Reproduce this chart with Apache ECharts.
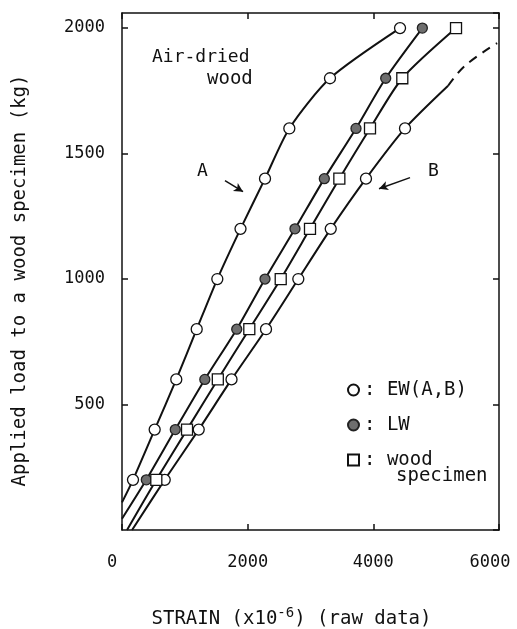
<!DOCTYPE html>
<html>
<head>
<meta charset="utf-8">
<script src="https://cdn.jsdelivr.net/npm/echarts@6/dist/echarts.min.js"></script>
<style>
  html, body { margin: 0; padding: 0; background: #fff; }
  #chart { width: 517px; height: 629px; }
</style>
</head>
<body>
<div id="chart"></div>
<script>
// load levels (kg)
const loads = [200, 400, 600, 800, 1000, 1200, 1400, 1600, 1800, 2000];
// strain (x10^-6)
const ewA = [175, 520, 864, 1189, 1517, 1886, 2276, 2663, 3310, 4425];
const lw = [387, 848, 1318, 1826, 2276, 2753, 3220, 3724, 4197, 4780];
const wood = [546, 1035, 1525, 2026, 2526, 2992, 3459, 3947, 4461, 5316];
const ewB = [680, 1221, 1743, 2292, 2806, 3322, 3883, 4504];
// where the fitted curves meet the axes, and the end of B
const aStart = [0, 110];
const lwStart = [0, 45];
const woodStart = [80, 0];
const bStart = [160, 0];
const bDashed = [[5190, 1770], [5460, 1850], [5970, 1940]];
// arrows pointing at curves A and B
const arrowA = [[1639, 1392], [1926, 1348]];
const arrowB = [[4584, 1404], [4090, 1360]];

const xTicks = { min: 0, max: 6000, interval: 2000 };
const yTicks = { min: 0, max: 2060, interval: 500 };

const FONT = 'DejaVu Sans Mono';
const INK = '#111';

function pairs(xs) {
  return xs.map((x, i) => [x, loads[i]]);
}

let curveStyle = { color: INK, width: 2 };
let frameLine = { show: true, onZero: false, lineStyle: { color: INK, width: 1.5 } };
let frameTick = { inside: true, length: 6, lineStyle: { color: INK, width: 1.5 } };

let chart = echarts.init(document.getElementById('chart'), null, { renderer: 'canvas' });

let option = {
  backgroundColor: '#fff',
  animation: false,
  grid: { left: 122, right: 18, top: 13, bottom: 99, outerBoundsMode: 'none', containLabel: false },
  legend: {
    orient: 'vertical',
    left: 342,
    top: 375,
    itemWidth: 11,
    itemHeight: 11,
    itemGap: 15,
    selectedMode: false,
    textStyle: { fontFamily: FONT, fontSize: 19, color: INK, lineHeight: 20 },
    formatter: function (name) {
      return name === 'wood specimen' ? ': wood' : ': ' + name;
    },
    data: [
      { name: 'EW(A,B)', icon: 'circle' },
      { name: 'LW', icon: 'circle' },
      { name: 'wood specimen', icon: 'rect' }
    ]
  },
  xAxis: [
    {
      type: 'value', position: 'bottom',
      min: xTicks.min, max: xTicks.max, interval: xTicks.interval,
      name: '{n|STRAIN (x10}{s|-6}{n|) (raw data)}',
      nameLocation: 'middle',
      nameGap: 76,
      nameTextStyle: {
        padding: [0, 38, 0, 0],
        rich: {
          n: { fontFamily: FONT, fontSize: 19, color: INK },
          s: { fontFamily: FONT, fontSize: 14, color: INK, verticalAlign: 'bottom', padding: [0, 0, 12, 0] }
        }
      },
      axisLine: frameLine,
      axisTick: frameTick,
      axisLabel: {
        margin: 24, fontFamily: FONT, fontSize: 17, color: INK,
        formatter: function (v) {
          if (v === xTicks.min) return '{lo|' + v + '}';
          if (v === xTicks.max) return '{hi|' + v + '}';
          return String(v);
        },
        rich: {
          lo: { fontFamily: FONT, fontSize: 17, color: INK, padding: [0, 20, 0, 0] },
          hi: { fontFamily: FONT, fontSize: 17, color: INK, padding: [0, 18, 0, 0] }
        }
      },
      splitLine: { show: false }
    },
    {
      type: 'value', position: 'top',
      min: xTicks.min, max: xTicks.max, interval: xTicks.interval,
      axisLine: frameLine,
      axisTick: frameTick,
      axisLabel: { show: false },
      splitLine: { show: false }
    }
  ],
  yAxis: [
    {
      type: 'value', position: 'left',
      min: yTicks.min, max: yTicks.max, interval: yTicks.interval,
      name: 'Applied load to a wood specimen (kg)',
      nameLocation: 'middle',
      nameGap: 92,
      nameTextStyle: { fontFamily: FONT, fontSize: 19, color: INK, padding: [0, 18, 0, 0] },
      axisLine: frameLine,
      axisTick: frameTick,
      axisLabel: {
        margin: 17, fontFamily: FONT, fontSize: 17, color: INK,
        showMinLabel: false, showMaxLabel: false, formatter: v => String(v)
      },
      splitLine: { show: false }
    },
    {
      type: 'value', position: 'right',
      min: yTicks.min, max: yTicks.max, interval: yTicks.interval,
      axisLine: frameLine,
      axisTick: frameTick,
      axisLabel: { show: false },
      splitLine: { show: false }
    }
  ],
  graphic: [
    { type: 'text', left: 152, top: 48, style: { text: 'Air-dried', font: '18px "DejaVu Sans Mono"', fill: INK } },
    { type: 'text', left: 207, top: 70, style: { text: 'wood', font: '19px "DejaVu Sans Mono"', fill: INK } },
    { type: 'text', left: 197, top: 162, style: { text: 'A', font: '18px "DejaVu Sans Mono"', fill: INK } },
    { type: 'text', left: 428, top: 162, style: { text: 'B', font: '18px "DejaVu Sans Mono"', fill: INK } },
    { type: 'text', left: 396, top: 467, style: { text: 'specimen', font: '19px "DejaVu Sans Mono"', fill: INK } }
  ],
  series: [
    {
      name: 'curveA', type: 'line', smooth: 0.25,
      symbol: 'none', lineStyle: curveStyle, z: 2,
      data: [aStart].concat(pairs(ewA)),
      markLine: {
        silent: true, symbol: ['none', 'arrow'], symbolSize: [7, 9],
        lineStyle: { color: INK, width: 1.5, type: 'solid' }, label: { show: false },
        data: [[{ coord: arrowA[0] }, { coord: arrowA[1] }], [{ coord: arrowB[0] }, { coord: arrowB[1] }]]
      }
    },
    {
      name: 'curveLW', type: 'line', smooth: 0.25,
      symbol: 'none', lineStyle: curveStyle, z: 2,
      data: [lwStart].concat(pairs(lw))
    },
    {
      name: 'curveWood', type: 'line', smooth: 0.25,
      symbol: 'none', lineStyle: curveStyle, z: 2,
      data: [woodStart].concat(pairs(wood))
    },
    {
      name: 'curveB', type: 'line', smooth: 0.25,
      symbol: 'none', lineStyle: curveStyle, z: 2,
      data: [bStart].concat(pairs(ewB), [bDashed[0]])
    },
    {
      name: 'curveBdash', type: 'line', smooth: 0.4,
      symbol: 'none', lineStyle: { color: INK, width: 2, type: [9, 7] }, z: 2,
      data: bDashed
    },
    {
      name: 'EW(A,B)', type: 'scatter', symbol: 'circle', symbolSize: 11, z: 5,
      itemStyle: { color: '#fff', borderColor: INK, borderWidth: 1.3, opacity: 1 },
      data: pairs(ewA).concat(pairs(ewB))
    },
    {
      name: 'LW', type: 'scatter', symbol: 'circle', symbolSize: 10, z: 5,
      itemStyle: { color: '#6e6e6e', borderColor: '#222', borderWidth: 1.3, opacity: 1 },
      data: pairs(lw)
    },
    {
      name: 'wood specimen', type: 'scatter', symbol: 'rect', symbolSize: 11, z: 5,
      itemStyle: { color: '#fff', borderColor: INK, borderWidth: 1.3, opacity: 1 },
      data: pairs(wood)
    }
  ]
};

chart.setOption(option);
</script>
</body>
</html>
